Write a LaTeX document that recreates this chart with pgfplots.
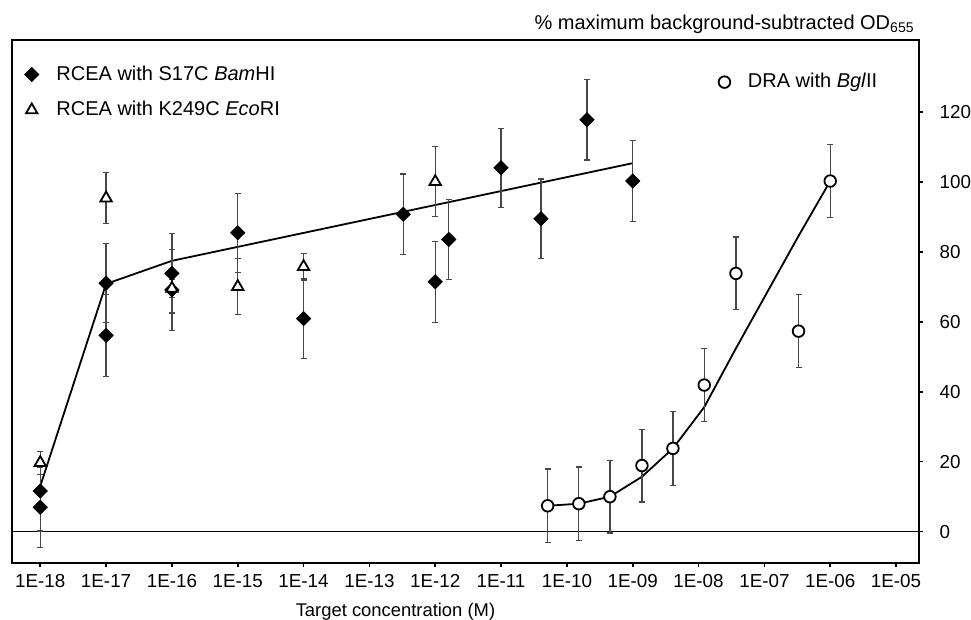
\documentclass[border=0pt]{standalone}
\usepackage{fontspec}
\setmainfont{Liberation Sans}
\usepackage{pgfplots}
\pgfplotsset{compat=1.18}

\pgfplotsset{
  myerr/.style={
    /pgfplots/error bars/y dir=both,
    /pgfplots/error bars/y explicit,
    /pgfplots/error bars/error mark=-,
    /pgfplots/error bars/error bar style={line width=0.6pt, color=black!72},
    /pgfplots/error bars/error mark options={rotate=90, line width=0.6pt, color=black!72, mark size=1.5pt},
  },
  mydiam/.style={only marks, mark=square*, mark size=2.5pt,
    mark options={rotate=45, fill=black, draw=black, line width=0.4pt}},
  mytri/.style={only marks, mark=triangle*, mark size=3.3pt,
    mark options={fill=white, draw=black, line width=0.9pt}},
  mycirc/.style={only marks, mark=*, mark size=2.9pt,
    mark options={fill=white, draw=black, line width=0.9pt}},
}

\begin{document}
\begin{tikzpicture}
\begin{axis}[
  name=ax,
  at={(0,0)}, anchor=south west,
  scale only axis, width=453.35pt, height=261.65pt,
  xmode=log, xmin=3.76e-19, xmax=2.23e-5,
  ymin=-9.03, ymax=140.5,
  axis line style={line width=0.9pt},
  xtick={1e-18,1e-17,1e-16,1e-15,1e-14,1e-13,1e-12,1e-11,1e-10,1e-9,1e-8,1e-7,1e-6,1e-5},
  xticklabels={1E-18,1E-17,1E-16,1E-15,1E-14,1E-13,1E-12,1E-11,1E-10,1E-09,1E-08,1E-07,1E-06,1E-05},
  xminorticks=false,
  ytick={0,20,...,120},
  xtick pos=bottom, ytick pos=right, yticklabel pos=right,
  tick align=outside, major tick length=2pt,
  tick style={line width=0.8pt, black},
  ticklabel style={font=\fontsize{9.4}{11}\selectfont},
  /pgf/number format/assume math mode=true,
  yticklabel style={anchor=west, xshift=4.8pt},
  xlabel={Target concentration (M)},
  xlabel style={at={(ticklabel cs:0.4226)}, anchor=north, font=\fontsize{9.2}{11}\selectfont, yshift=-1pt},
  legend style={draw=none, fill=none, at={(axis description cs:0,1)}, anchor=north west,
    xshift=3pt, yshift=-8.7pt, font=\fontsize{10}{12}\selectfont, row sep=5pt,
    /tikz/every odd column/.append style={column sep=6.8pt}},
  legend cell align=left,
]
% zero line
\draw[line width=0.75pt] ({rel axis cs:0,0} |- {axis cs:1e-10,0}) -- ({rel axis cs:1,0} |- {axis cs:1e-10,0});

% fitted lines
\addplot[black, line width=0.9pt, forget plot] coordinates {
  (1e-18,13) (1e-17,70.8) (1e-16,77.4) (1e-9,105.3)
};
\addplot[black, line width=0.9pt, forget plot] coordinates {
  (5.1e-11,7.4) (1.52e-10,8.0) (4.5e-10,10.0) (1.38e-9,15.7) (4.08e-9,23.8)
  (1.22e-8,35.6) (3.7e-8,52.4) (3.3e-7,84.5) (1e-6,100.2)
};

% RCEA with S17C BamHI
\addplot[mydiam, myerr] coordinates {
  (1e-18,11.6) +- (0,11.4)
  (1e-18,7.0) +- (0,11.5)
  (1e-17,71.0) +- (0,11.3)
  (1e-17,56.1) +- (0,11.7)
  (1e-16,73.8) +- (0,11.3)
  (1e-16,69.1) +- (0,11.5)
  (1e-15,85.4) +- (0,11.3)
  (1e-14,60.9) +- (0,11.5)
  (3.27e-13,90.7) +- (0,11.5)
  (1e-12,71.4) +- (0,11.6)
  (1.61e-12,83.5) +- (0,11.5)
  (1e-11,104.0) +- (0,11.3)
  (4.04e-11,89.4) +- (0,11.4)
  (2.02e-10,117.7) +- (0,11.5)
  (1e-9,100.2) +- (0,11.5)
};
\addlegendentry{RCEA with S17C \textit{Bam}HI}

% RCEA with K249C EcoRI
\addplot[mytri, myerr] coordinates {
  (1e-18,19.7) +- (0,3.3)
  (1e-17,95.3) +- (0,7.3)
  (1e-16,69.5) +- (0,2.5)
  (1e-15,70.0) +- (0,8.0)
  (1e-14,75.7) +- (0,3.8)
  (1e-12,100.0) +- (0,10.0)
};
\addlegendentry{RCEA with K249C \textit{Eco}RI}

% DRA with BglII
\addplot[mycirc, myerr, forget plot] coordinates {
  (5.1e-11,7.4) +- (0,10.5)
  (1.52e-10,8.0) +- (0,10.5)
  (4.5e-10,10.0) +- (0,10.4)
  (1.38e-9,18.9) +- (0,10.4)
  (4.08e-9,23.8) +- (0,10.5)
  (1.22e-8,41.9) +- (0,10.4)
  (3.7e-8,73.8) +- (0,10.4)
  (3.3e-7,57.3) +- (0,10.4)
  (1e-6,100.2) +- (0,10.5)
};
\end{axis}

\begin{axis}[
  at={(0,0)}, anchor=south west,
  scale only axis, width=453.35pt, height=261.65pt,
  xmin=0, xmax=1, ymin=0, ymax=1, hide axis,
  legend style={draw=none, fill=none, at={(axis description cs:0.74,1)}, anchor=north west,
    xshift=14.5pt, yshift=-12.5pt, font=\fontsize{10}{12}\selectfont,
    /tikz/every odd column/.append style={column sep=6.8pt}},
  legend cell align=left,
]
\addlegendimage{mycirc}
\addlegendentry{DRA with \textit{Bgl}II}
\end{axis}

\node[anchor=base east, inner sep=0pt, xshift=-2pt, yshift=5.35pt, font=\fontsize{10}{12}\selectfont]
  at (ax.north east) {\% maximum background-subtracted OD\textsubscript{655}};

\pgfresetboundingbox
\path[use as bounding box] (-6.15pt,-28.35pt) rectangle (479.35pt,281.65pt);
\end{tikzpicture}
\end{document}
